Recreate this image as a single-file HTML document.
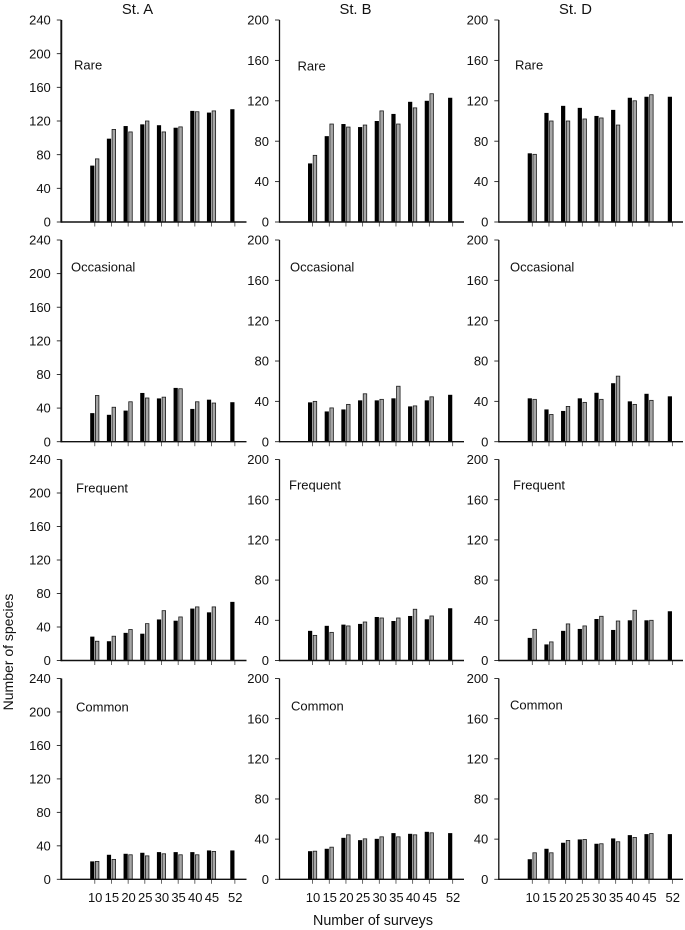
<!DOCTYPE html>
<html lang="en">
<head>
<meta charset="utf-8">
<title>Number of species by number of surveys</title>
<style>
  html, body { margin: 0; padding: 0; background: #fff; }
  svg { display: block; font-family: "Liberation Sans", sans-serif; fill: #111; filter: blur(0.3px); }
</style>
</head>
<body>
<svg id="chart" xmlns="http://www.w3.org/2000/svg" width="685" height="930" viewBox="0 0 685 930">
  <rect x="0" y="0" width="685" height="930" fill="#ffffff"/>
  <text x="137.5" y="14" font-size="14.8" text-anchor="middle">St. A</text>
  <text x="355.5" y="14" font-size="14.8" text-anchor="middle">St. B</text>
  <text x="575.5" y="14" font-size="14.8" text-anchor="middle">St. D</text>
  <text transform="translate(13 652) rotate(-90)" font-size="14" text-anchor="middle">Number of species</text>
  <text x="373" y="925" font-size="14.3" text-anchor="middle">Number of surveys</text>
  <text x="74" y="69.5" font-size="13">Rare</text>
  <text x="297.5" y="70.5" font-size="13">Rare</text>
  <text x="515" y="69.5" font-size="13">Rare</text>
  <text x="71" y="271.5" font-size="13">Occasional</text>
  <text x="290" y="271.5" font-size="13">Occasional</text>
  <text x="510" y="271.5" font-size="13">Occasional</text>
  <text x="76" y="492.5" font-size="13">Frequent</text>
  <text x="289" y="489.5" font-size="13">Frequent</text>
  <text x="513" y="489.5" font-size="13">Frequent</text>
  <text x="76" y="711.5" font-size="13">Common</text>
  <text x="291" y="710.5" font-size="13">Common</text>
  <text x="510" y="709.5" font-size="13">Common</text>
</svg>
<script>
// Categories and tick labels
const surveys = [10, 15, 20, 25, 30, 35, 40, 45, 52];
const stations = ["St. A", "St. B", "St. D"];
const groups = ["Rare", "Occasional", "Frequent", "Common"];
const yTicksStA = [0, 40, 80, 120, 160, 200, 240];
const yTicksOther = [0, 40, 80, 120, 160, 200];

// Series values: black bars (9 values), gray bars (8 values; none at 52 surveys)
const rareABlack = [67, 99, 114, 116, 115, 112, 132, 130, 134];
const rareAGray = [75, 110, 107, 120, 107, 113, 131, 132];
const rareBBlack = [58, 85, 97, 94, 100, 107, 119, 120, 123];
const rareBGray = [66, 97, 94, 96, 110, 97, 113, 127];
const rareDBlack = [68, 108, 115, 113, 105, 111, 123, 124, 124];
const rareDGray = [67, 100, 100, 102, 103, 96, 120, 126];

const occasionalABlack = [34, 32, 37, 58, 51.5, 64, 39, 50, 47];
const occasionalAGray = [55, 41, 47.5, 52, 53, 63, 47.5, 46];
const occasionalBBlack = [39, 30, 32, 41, 41, 43, 35, 41, 46.5];
const occasionalBGray = [40, 33.5, 37, 47.5, 42, 55, 35.5, 44.5];
const occasionalDBlack = [43, 32, 30.5, 43, 48.5, 58, 40, 47.5, 45];
const occasionalDGray = [42, 27, 35, 39, 42, 65, 37, 41];

const frequentABlack = [28.5, 23, 33, 32, 49, 47.5, 62, 57.5, 70];
const frequentAGray = [23, 29, 37, 44, 59.5, 52, 64, 64];
const frequentBBlack = [29.5, 34.5, 35.7, 36.4, 43.3, 39.3, 44.3, 41, 52];
const frequentBGray = [25, 28, 34.4, 38.3, 42.3, 42.3, 51, 44.3];
const frequentDBlack = [22.5, 16, 29.5, 31.4, 41.3, 30.4, 40, 40, 49];
const frequentDGray = [31, 18.5, 36.4, 34.4, 44, 39.3, 50, 40];

const commonABlack = [21.4, 29.3, 30.5, 31.7, 32.5, 32.5, 32.5, 34.5, 34.5];
const commonAGray = [21.4, 23.8, 29.3, 28, 30.5, 29.3, 29.3, 33.3];
const commonBBlack = [28, 30.4, 41.3, 39, 40.3, 46, 45.3, 47.3, 46];
const commonBGray = [28, 32, 44.3, 40.3, 42.3, 42.3, 44.3, 46.3];
const commonDBlack = [20, 30.4, 36.4, 39.7, 35.4, 40.7, 44, 45, 45];
const commonDGray = [26.4, 26.4, 38.7, 39.7, 35.4, 37.4, 41.7, 45.6];

const panelSeries = [
  [[rareABlack, rareAGray], [rareBBlack, rareBGray], [rareDBlack, rareDGray]],
  [[occasionalABlack, occasionalAGray], [occasionalBBlack, occasionalBGray], [occasionalDBlack, occasionalDGray]],
  [[frequentABlack, frequentAGray], [frequentBBlack, frequentBGray], [frequentDBlack, frequentDGray]],
  [[commonABlack, commonAGray], [commonBBlack, commonBGray], [commonDBlack, commonDGray]]
];

// Layout (separate from the data)
const layout = {
  axisX: [61.3, 279.5, 498.8],
  axisEnd: [246.5, 464, 683],
  tick10: [94.8, 312.6, 532.3],
  pxPerSurvey: 3.335,
  top: [20, 240, 459.5, 678.5],
  base: [222, 441.7, 660.5, 879.3],
  yAxisWidth: [1.9, 1.3, 1.3]
};

const SVG_NS = "http://www.w3.org/2000/svg";
const svg = document.getElementById("chart");

function make(tag, attrs) {
  const el = document.createElementNS(SVG_NS, tag);
  for (const key in attrs) el.setAttribute(key, attrs[key]);
  svg.appendChild(el);
  return el;
}
function xScale(col, survey) {
  return layout.tick10[col] + (survey - 10) * layout.pxPerSurvey;
}
function yScale(row, col, value) {
  const max = col === 0 ? 240 : 200;
  return layout.base[row] - (value / max) * (layout.base[row] - layout.top[row]);
}
function slug(text) {
  return text.toLowerCase().replace(/[^a-z0-9]+/g, "-");
}

groups.forEach(function (group, row) {
  stations.forEach(function (station, col) {
    const prefix = slug(group) + "-" + slug(station);
    const base = layout.base[row];
    const axisX = layout.axisX[col];
    const black = panelSeries[row][col][0];
    const gray = panelSeries[row][col][1];
    const yTicks = col === 0 ? yTicksStA : yTicksOther;

    surveys.forEach(function (survey, i) {
      const t = xScale(col, survey);
      const tick = make("line", { x1: t, x2: t, y1: base, y2: base + 4.5, stroke: "#444", "stroke-width": 0.8 });
      
      

      const by = yScale(row, col, black[i]);
      const bar = make("rect", { x: t - 4.6, y: by, width: 4.2, height: base - by, fill: "#000" });
      
      

      if (i < gray.length) {
        const gy = yScale(row, col, gray[i]);
        const gbar = make("rect", { x: t + 0.6, y: gy, width: 3.5, height: base - gy, fill: "#a6a6a6", stroke: "#1a1a1a", "stroke-width": 0.8 });
        
        
      }
    });

    yTicks.forEach(function (v) {
      const y = yScale(row, col, v);
      const yTick = make("line", { x1: axisX - 4.5, x2: axisX, y1: y, y2: y, stroke: "#222", "stroke-width": 0.9 });
      
      

      const label = make("text", { x: axisX - 10.5, y: y + 4.6, "font-size": 13, "text-anchor": "end" });
      label.textContent = String(v);
      
      
    });

    const yAxis = make("line", { x1: axisX, x2: axisX, y1: layout.top[row], y2: base + 0.7, stroke: "#111", "stroke-width": layout.yAxisWidth[col] });
    
    

    const xAxis = make("line", { x1: axisX, x2: layout.axisEnd[col], y1: base, y2: base, stroke: "#111", "stroke-width": 1.4 });
    
    

    if (row === groups.length - 1) {
      surveys.forEach(function (survey) {
        const xl = make("text", { x: xScale(col, survey) + 0.4, y: 902, "font-size": 13, "text-anchor": "middle" });
        xl.textContent = String(survey);
        
        
      });
    }
  });
});
</script>
</body>
</html>
